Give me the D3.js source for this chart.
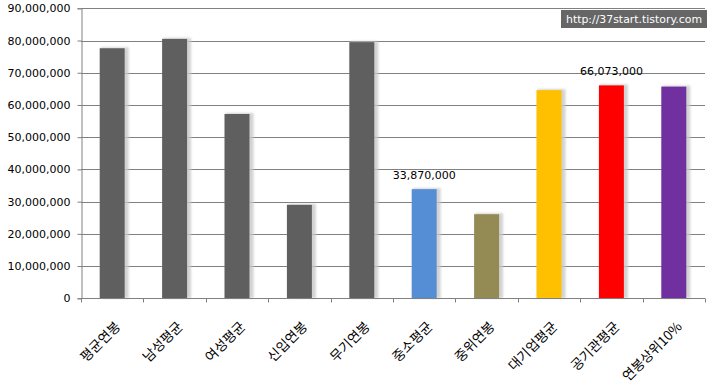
<!DOCTYPE html>
<html><head><meta charset="utf-8">
<script src="https://cdn.jsdelivr.net/npm/d3@7/dist/d3.min.js"></script>
<style>
html,body{margin:0;padding:0;background:#fff;}
svg{display:block;}
</style></head>
<body>
<svg id="chart" width="711" height="391"></svg>
<script>
const categories = ["평균연봉","남성평균","여성평균","신입연봉","무기연봉","중소평균","중위연봉","대기업평균","공기관평균","연봉상위10%"];
const values = [77600000, 80500000, 57200000, 29000000, 79500000, 33870000, 26100000, 64600000, 66073000, 65700000];
const colors = ["#5f5f5f","#5f5f5f","#5f5f5f","#5f5f5f","#5f5f5f","#558ed5","#948a54","#ffc000","#ff0000","#7030a0"];
const labelled = [5, 8];
const yTicks = [0,10000000,20000000,30000000,40000000,50000000,60000000,70000000,80000000,90000000];
const watermark = "http://37start.tistory.com";

const svg = d3.select("#chart");
const m = {left:81, right:6, top:8.3, bottom:92.7};
const W = 711, H = 391;
const x = d3.scaleBand().domain(categories).range([m.left, W - m.right]).paddingInner(0.6).paddingOuter(0.3);
const y = d3.scaleLinear().domain([0, 90000000]).range([H - m.bottom, m.top]);
const band = d3.scaleBand().domain(categories).range([m.left, W - m.right]);

const defs = svg.append("defs");
const f = defs.append("filter").attr("id","sh").attr("x","-50%").attr("y","-10%").attr("width","200%").attr("height","120%");
f.append("feGaussianBlur").attr("stdDeviation", 1.2);

// gridlines
svg.append("g").selectAll("line").data(yTicks.slice(1)).join("line")
  .attr("x1", m.left).attr("x2", W - m.right)
  .attr("y1", d => Math.round(y(d)) + 0.5).attr("y2", d => Math.round(y(d)) + 0.5)
  .attr("stroke", "#808080").attr("stroke-width", 1);

// shadows
svg.append("g").selectAll("rect").data(values).join("rect")
  .attr("x", (d,i) => x(categories[i]) + 1)
  .attr("y", d => y(d) - 1)
  .attr("width", x.bandwidth() + 3)
  .attr("height", d => y(0) - y(d) + 1)
  .attr("fill", "#c8c8c8").attr("filter","url(#sh)").attr("opacity",0.8);

// bars
svg.append("g").selectAll("rect").data(values).join("rect")
  .attr("x", (d,i) => x(categories[i]))
  .attr("y", d => y(d))
  .attr("width", x.bandwidth())
  .attr("height", d => y(0) - y(d))
  .attr("fill", (d,i) => colors[i]);

// y axis
const ya = svg.append("g").attr("transform", `translate(${m.left + 0.5},0)`)
  .call(d3.axisLeft(y).tickValues(yTicks).tickSize(4).tickPadding(7).tickFormat(d3.format(",")));
ya.select(".domain").attr("stroke","#808080");
ya.selectAll(".tick line").attr("stroke","#808080");
ya.selectAll("text").attr("font-family","'DejaVu Sans', sans-serif").attr("font-size", 11).attr("fill","#000");

// x axis
const xa = svg.append("g").attr("transform", `translate(0,${Math.round(y(0)) + 0.5})`);
xa.append("line").attr("x1", m.left).attr("x2", W - m.right).attr("stroke","#808080");
const edges = categories.map(c => band(c)).concat([W - m.right]);
xa.selectAll("line.t").data(edges).join("line").attr("class","t")
  .attr("x1", d => Math.round(d) + 0.5).attr("x2", d => Math.round(d) + 0.5)
  .attr("y1", 0).attr("y2", 4).attr("stroke","#808080");
xa.selectAll("text").data(categories).join("text")
  .attr("transform", d => `translate(${band(d) + band.bandwidth()/2 + 9},${29}) rotate(-45)`)
  .attr("text-anchor","end")
  .attr("font-family","'Noto Sans CJK KR', sans-serif")
  .attr("font-size", 13.5)
  .attr("fill","#000")
  .text(d => d);

// data labels
svg.append("g").selectAll("text").data(labelled).join("text")
  .attr("x", i => x(categories[i]) + x.bandwidth()/2)
  .attr("y", i => y(values[i]) - 10)
  .attr("text-anchor","middle")
  .attr("font-family","'DejaVu Sans', sans-serif").attr("font-size", 11)
  .attr("fill","#000")
  .text(i => d3.format(",")(values[i]));

// watermark
const wm = svg.append("g");
wm.append("rect").attr("x", 561).attr("y", 10).attr("width", 146).attr("height", 18).attr("fill", "#666");
wm.append("text").attr("x", 634).attr("y", 23).attr("text-anchor","middle")
  .attr("font-family","'DejaVu Sans', sans-serif").attr("font-size", 10.5)
  .attr("textLength", 136).attr("lengthAdjust","spacingAndGlyphs")
  .attr("fill","#fff").text(watermark);
</script>
</body></html>
